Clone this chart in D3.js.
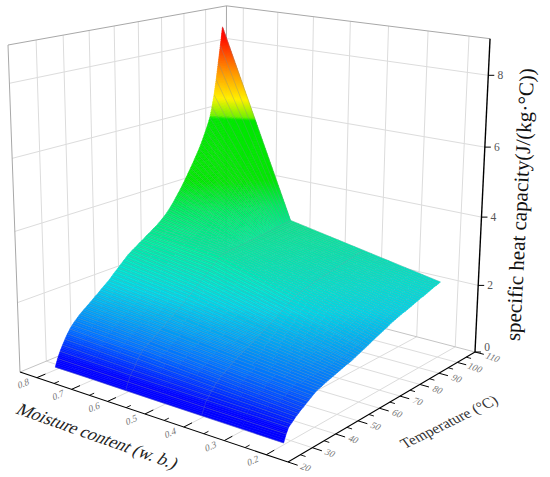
<!DOCTYPE html>
<html><head><meta charset="utf-8">
<script src="https://cdn.jsdelivr.net/npm/d3@7"></script>
<style>html,body{margin:0;background:#fff}svg{display:block}text{font-family:"Liberation Serif",serif}</style>
</head><body><svg id="c" width="550" height="477"></svg>
<script>
const moisture=[0.2,0.4,0.6,0.7,0.8];
const temperatures=d3.range(27,101);
const zM02=[.05,.25,.39,.45,.51,.57,.62,.67,.71,.76,.8,.85,.89,.93,.97,.99,1.01,1.04,1.06,1.08,1.1,1.12,1.14,1.16,1.18,1.2,1.22,1.24,1.25,1.27,1.3,1.32,1.35,1.37,1.4,1.42,1.45,1.47,1.5,1.53,1.55,1.58,1.6,1.63,1.65,1.68,1.7,1.73,1.76,1.78,1.8,1.82,1.84,1.86,1.88,1.89,1.91,1.93,1.95,1.97,1.99,2.01,2.03,2.05,2.06,2.08,2.1,2.12,2.14,2.16,2.18,2.19,2.21,2.23];
const zM04=[.06,.26,.42,.5,.6,.68,.76,.83,.88,.93,.97,1.02,1.07,1.11,1.16,1.2,1.23,1.27,1.3,1.34,1.37,1.41,1.45,1.48,1.52,1.56,1.6,1.63,1.67,1.7,1.75,1.79,1.83,1.87,1.91,1.95,2,2.04,2.08,2.13,2.16,2.19,2.2,2.22,2.24,2.26,2.27,2.29,2.31,2.33,2.34,2.35,2.36,2.38,2.39,2.4,2.41,2.43,2.44,2.45,2.47,2.48,2.5,2.51,2.52,2.53,2.55,2.56,2.57,2.59,2.6,2.61,2.62,2.64];
const zM06=[.07,.28,.44,.55,.68,.8,.9,1,1.05,1.1,1.15,1.2,1.25,1.3,1.35,1.4,1.45,1.5,1.55,1.6,1.65,1.7,1.75,1.81,1.86,1.92,1.98,2.03,2.09,2.14,2.2,2.26,2.32,2.37,2.43,2.49,2.55,2.61,2.67,2.73,2.78,2.8,2.81,2.82,2.83,2.84,2.84,2.85,2.86,2.87,2.87,2.88,2.89,2.9,2.9,2.91,2.92,2.93,2.94,2.94,2.95,2.96,2.97,2.97,2.98,2.99,3,3,3.01,3.02,3.03,3.03,3.04,3.05];
const zM07=[.08,.29,.46,.59,.73,.85,.95,1.05,1.12,1.18,1.24,1.29,1.34,1.4,1.45,1.5,1.56,1.61,1.66,1.72,1.77,1.82,1.88,1.94,2,2.07,2.13,2.19,2.25,2.31,2.37,2.43,2.48,2.53,2.58,2.64,2.69,2.74,2.8,2.85,2.9,2.93,2.96,2.99,3.02,3.06,3.09,3.13,3.17,3.22,3.27,3.32,3.38,3.43,3.49,3.55,3.61,3.68,3.74,3.8,3.87,3.94,4.01,4.09,4.17,4.26,4.35,4.45,4.61,4.79,5.02,5.27,5.52,5.8];
const zM08=[.08,.3,.48,.63,.77,.9,1.01,1.1,1.18,1.25,1.32,1.38,1.43,1.49,1.54,1.6,1.66,1.71,1.77,1.83,1.89,1.94,2,2.07,2.14,2.21,2.27,2.34,2.41,2.47,2.54,2.59,2.64,2.68,2.73,2.78,2.82,2.87,2.92,2.96,3.01,3.06,3.1,3.15,3.21,3.27,3.33,3.4,3.48,3.57,3.66,3.76,3.86,3.96,4.07,4.18,4.3,4.42,4.54,4.66,4.79,4.92,5.05,5.2,5.36,5.53,5.7,5.9,6.2,6.56,7,7.5,8,8.55];
const zColumns=[zM02,zM04,zM06,zM07,zM08];
const moistureTicks=[0.8,0.7,0.6,0.5,0.4,0.3,0.2];
const moistureMinor=[0.75,0.65,0.55,0.45,0.35,0.25];
const tempTicks=[20,30,40,50,60,70,80,90,100,110];
const tempMinor=[25,35,45,55,65,75,85,95,105];
const zTicks=[0,2,4,6,8];
const colorStops=[0.3,0.6,1.0,1.4,1.9,2.2,2.8,3.5,4.2,5.88,5.95,6.46,7.27,8.2,8.58];
const colorValues=["#0000ff","#0030ff","#0070ff","#00a0f5","#00d4e6","#00e0d0","#00eba0","#00e860","#00e600","#00e600","#70f000","#fff000","#ff9000","#ff1000","#ff0000"];

// ---- perspective box
const O=[288,462],U=[20,372],V=[475,352],F=[226,287],L=[8,45],R=[490,36];
const sx=d3.scaleLinear().domain([0.15,0.85]).range([0,1]);
const sy=d3.scaleLinear().domain([20,110]).range([0,1]);
const sz=d3.scaleLinear().domain([0,9]).range([0,1]);
const color=d3.scaleLinear().domain(colorStops).range(colorValues).clamp(true).interpolate(d3.interpolateRgb);
const d1=[F[0]-U[0],F[1]-U[1]],d2=[F[0]-V[0],F[1]-V[1]],rhs=[U[0]+V[0]-O[0]-F[0],U[1]+V[1]-O[1]-F[1]];
const det=d1[0]*d2[1]-d1[1]*d2[0];
const a=(rhs[0]*d2[1]-rhs[1]*d2[0])/det,b=(d1[0]*rhs[1]-d1[1]*rhs[0])/det;
const e=[0,1].map(i=>(1+a)*(L[i]-U[i])-(1+b)*(R[i]-V[i]));
const rl=[R[0]-L[0],R[1]-L[1]];
const c=(e[0]*rl[0]+e[1]*rl[1])/(rl[0]*rl[0]+rl[1]*rl[1]);
const A=[0,1].map(i=>(1+a)*U[i]-O[i]),B=[0,1].map(i=>(1+b)*V[i]-O[i]),C=[0,1].map(i=>L[i]*(1+a+c)-(1+a)*U[i]);
function proj(m,t,z){const u=sx(m),v=sy(t),w=sz(z),d=1+a*u+b*v+c*w;
  return [(O[0]+u*A[0]+v*B[0]+w*C[0])/d,(O[1]+u*A[1]+v*B[1]+w*C[1])/d];}
const svg=d3.select("#c");
const line=(pts,col,wd)=>svg.append("path").attr("d",d3.line()(pts)).attr("fill","none").attr("stroke",col).attr("stroke-width",wd);
const M0=0.85,M1=0.15,T0=20,T1=110,Z1=9;
const g="#dcdcdc";
[2,4,6,8].forEach(z=>{line([proj(M0,T0,z),proj(M0,T1,z)],g,1);line([proj(M0,T1,z),proj(M1,T1,z)],g,1);});
tempTicks.slice(1,-1).forEach(t=>{line([proj(M0,t,0),proj(M0,t,Z1)],g,1);line([proj(M0,t,0),proj(M1,t,0)],g,1);});
moistureTicks.forEach(m=>{line([proj(m,T1,0),proj(m,T1,Z1)],g,1);line([proj(m,T0,0),proj(m,T1,0)],g,1);});
const f="#a8a8a8";
line([proj(M0,T0,0),proj(M0,T0,Z1),proj(M0,T1,Z1),proj(M1,T1,Z1)],f,1);
line([proj(M0,T1,0),proj(M0,T1,Z1)],f,1);
line([proj(M0,T0,0),proj(M0,T1,0),proj(M1,T1,0)],"#c4c4c4",1);
const gs=svg.append("g");
for(let j=temperatures.length-2;j>=0;j--){
  for(let i=moisture.length-2;i>=0;i--){
    const m0=moisture[i],m1=moisture[i+1],t0=temperatures[j],t1=temperatures[j+1];
    const z00=zColumns[i][j],z10=zColumns[i+1][j],z01=zColumns[i][j+1],z11=zColumns[i+1][j+1];
    const rng=Math.max(Math.abs(z10-z00),Math.abs(z11-z01));
    const nx=Math.max(2,Math.ceil(rng/0.05));
    const ny=Math.max(1,Math.ceil(Math.max(Math.abs(z01-z00),Math.abs(z11-z10))/0.05));
    for(let q=ny-1;q>=0;q--)for(let p=nx-1;p>=0;p--){
      const P=(pi,qi)=>{const s=pi/nx,r=qi/ny;
        const z=(z00*(1-s)+z10*s)*(1-r)+(z01*(1-s)+z11*s)*r;
        return {pt:proj(m0+(m1-m0)*s,t0+(t1-t0)*r,z),z};};
      const c4=[P(p,q),P(p+1,q),P(p+1,q+1),P(p,q+1)];
      const cc=color(d3.mean(c4,d=>d.z));
      gs.append("path").attr("d",d3.line()(c4.map(d=>d.pt))+"Z").attr("fill",cc).attr("stroke",cc).attr("stroke-width",0.5);
    }
  }
}
temperatures.forEach((t,j)=>{
  const rowPts=moisture.map((m,i)=>proj(m,t,zColumns[i][j]));
  gs.append("path").attr("d",d3.line()(rowPts)).attr("fill","none").attr("stroke","#7f8b98").attr("stroke-opacity",0.55).attr("stroke-width",0.6);
});
[1,2].forEach(i=>{
  gs.append("path").attr("d",d3.line()(temperatures.map((t,j)=>proj(moisture[i],t,zColumns[i][j])))).attr("fill","none").attr("stroke","#8090a0").attr("stroke-opacity",0.4).attr("stroke-width",0.6);
});
const k="#000";
line([proj(M0,T0,0),proj(M1,T0,0)],k,1.1);
line([proj(M1,T0,0),proj(M1,T1,0)],k,1.1);
line([proj(M1,T1,0),proj(M1,T1,Z1)],k,1.4);
moistureTicks.forEach(m=>line([proj(m,T0,0),proj(m,T0+3.2,0)],k,1));
moistureMinor.forEach(m=>line([proj(m,T0,0),proj(m,T0+1.8,0)],k,0.9));
tempTicks.forEach(t=>line([proj(M1,t,0),proj(M1-0.022,t,0)],k,1));
tempMinor.forEach(t=>line([proj(M1,t,0),proj(M1-0.012,t,0)],k,0.9));
zTicks.forEach(z=>{const p=proj(M1,T1,z);line([p,[p[0]+6,p[1]]],k,1);
  svg.append("text").attr("x",p[0]+12).attr("y",p[1]+(z===0?-1:4)).attr("font-size",11.5).attr("fill","#555").attr("text-anchor","middle").text(z);});
moistureTicks.forEach(m=>{const p=proj(m,T0,0);
  svg.append("text").attr("transform",`translate(${p[0]-13},${p[1]+9}) rotate(-24) skewX(-15)`).attr("font-size",9.5).attr("fill","#777").attr("text-anchor","middle").text(m.toFixed(1));});
tempTicks.forEach(t=>{const p=proj(M1,t,0);
  svg.append("text").attr("transform",`translate(${p[0]+16},${p[1]+8}) rotate(20) skewX(-15)`).attr("font-size",9.5).attr("fill","#777").attr("text-anchor","middle").text(t);});
svg.append("text").attr("transform","translate(94,441) rotate(19.5) skewX(-18)").attr("font-size",17.5).attr("fill","#222").attr("text-anchor","middle").text("Moisture content (w. b.)");
svg.append("text").attr("transform","translate(452,426) rotate(-26) skewX(10)").attr("font-size",15).attr("fill","#333").attr("text-anchor","middle").text("Temperature (°C)");
svg.append("text").attr("transform","translate(527,205) rotate(-87)").attr("font-size",21).attr("fill","#111").attr("text-anchor","middle").text("specific heat capacity(J/(kg·°C))");
</script></body></html>
